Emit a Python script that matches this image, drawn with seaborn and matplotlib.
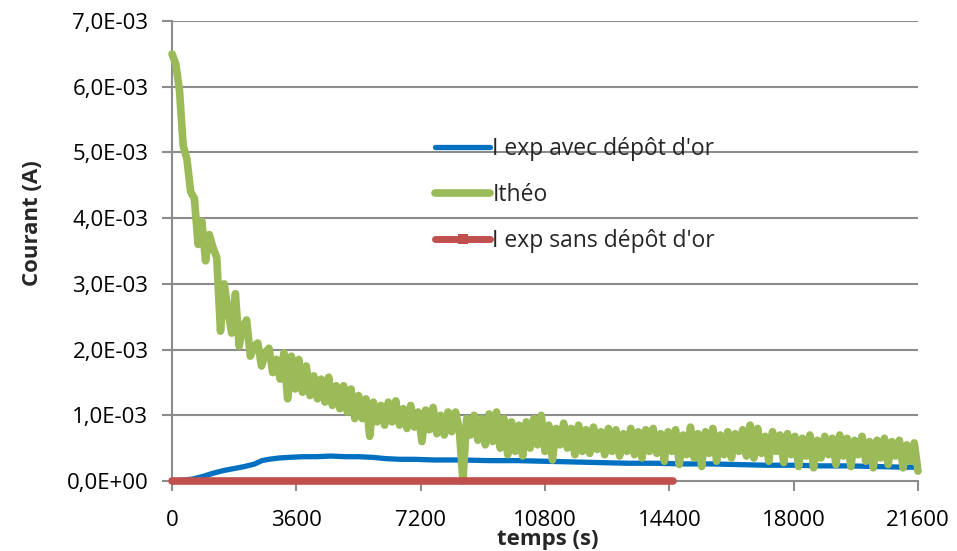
import numpy as np
import pandas as pd
import matplotlib
matplotlib.use("Agg")
import matplotlib.pyplot as plt
import seaborn as sns
from matplotlib.lines import Line2D
from matplotlib.ticker import FuncFormatter, MultipleLocator

# --- data (current in mA, converted to A below) ---
t_blue = [0, 300, 600, 900, 1200, 1500, 1800, 2100, 2400, 2600, 2800, 3100, 3400,
          3800, 4200, 4600, 5000, 5400, 5800, 6200, 6600, 7000, 7600, 8400, 9200,
          10000, 10800, 11600, 12400, 13200, 14000, 14800, 15600, 16400, 17200,
          18000, 18800, 19600, 20400, 21200, 21600]
i_blue_mA = [0.0, 0.01, 0.03, 0.07, 0.12, 0.16, 0.19, 0.22, 0.26, 0.31, 0.33, 0.35, 0.36,
             0.37, 0.37, 0.38, 0.37, 0.37, 0.36, 0.34, 0.33, 0.33, 0.32, 0.32, 0.31,
             0.31, 0.30, 0.29, 0.28, 0.27, 0.27, 0.26, 0.26, 0.25, 0.24,
             0.24, 0.23, 0.23, 0.22, 0.21, 0.21]

# Itheo sampled every 108 s
t_theo = np.arange(0, 21601, 108)
i_theo_mA = [
    6.50, 6.35, 5.95, 5.10, 4.90, 4.40, 4.30, 3.60, 3.95, 3.35,
    3.75, 3.55, 3.40, 2.28, 3.00, 2.60, 2.25, 2.85, 2.05, 2.35,
    2.45, 1.90, 2.05, 2.10, 1.75, 1.95, 2.02, 1.65, 1.85, 1.55,
    1.95, 1.25, 1.90, 1.40, 1.85, 1.35, 1.75, 1.30, 1.60, 1.25,
    1.55, 1.20, 1.58, 1.15, 1.45, 1.10, 1.45, 1.05, 1.40, 0.95,
    1.30, 0.95, 1.25, 0.68, 1.20, 0.90, 1.15, 0.85, 1.20, 0.90,
    1.22, 0.85, 1.10, 0.80, 1.15, 0.82, 1.05, 0.60, 1.08, 0.78,
    1.12, 0.72, 1.00, 0.70, 1.05, 0.75, 1.05, 0.80, 0.00, 0.95,
    0.70, 1.00, 0.62, 0.95, 0.55, 1.02, 0.60, 1.05, 0.50, 0.95,
    0.40, 0.90, 0.45, 0.85, 0.38, 0.90, 0.50, 0.95, 0.55, 1.00,
    0.45, 0.85, 0.32, 0.80, 0.55, 0.88, 0.50, 0.80, 0.40, 0.85,
    0.45, 0.78, 0.42, 0.82, 0.48, 0.75, 0.40, 0.80, 0.45, 0.78,
    0.38, 0.72, 0.45, 0.80, 0.40, 0.75, 0.35, 0.78, 0.45, 0.80,
    0.42, 0.72, 0.30, 0.75, 0.45, 0.78, 0.25, 0.70, 0.40, 0.82,
    0.35, 0.72, 0.22, 0.75, 0.42, 0.80, 0.30, 0.70, 0.40, 0.75,
    0.35, 0.72, 0.45, 0.78, 0.38, 0.85, 0.35, 0.80, 0.42, 0.68,
    0.30, 0.75, 0.45, 0.70, 0.28, 0.72, 0.40, 0.68, 0.22, 0.65,
    0.38, 0.70, 0.20, 0.62, 0.35, 0.68, 0.40, 0.65, 0.25, 0.70,
    0.38, 0.65, 0.22, 0.62, 0.40, 0.68, 0.30, 0.60, 0.20, 0.62,
    0.35, 0.65, 0.25, 0.60, 0.38, 0.62, 0.20, 0.55, 0.30, 0.58,
    0.15,
]

t_red = [0, 1800, 3600, 5400, 7200, 9000, 10800, 12600, 14500]
i_red_mA = [0, 0, 0, 0, 0, 0, 0, 0, 0]

labels = ["I exp avec dépôt d'or", "Ithéo", "I exp sans dépôt d'or"]
colors = ["#0070C0", "#9BBB59", "#C0504D"]
x_ticks = [0, 3600, 7200, 10800, 14400, 18000, 21600]

df_blue = pd.DataFrame({"t": t_blue, "I": np.array(i_blue_mA) * 1e-3})
df_theo = pd.DataFrame({"t": t_theo, "I": np.array(i_theo_mA) * 1e-3})
df_red = pd.DataFrame({"t": t_red, "I": np.array(i_red_mA) * 1e-3})

sns.set_style("white")
plt.rcParams['font.family'] = ['Open Sans', 'DejaVu Sans']

fig = plt.figure(figsize=(9.57, 5.51), dpi=100)
ax = fig.add_axes([172 / 957, 1 - 481 / 551, (918 - 172) / 957, (481 - 21) / 551])

grid_c = "#8C8C8C"
for v in np.arange(1, 8) * 1e-3:
    ax.axhline(v, color=grid_c, lw=1.5, zorder=1)

sns.lineplot(data=df_blue, x="t", y="I", ax=ax, color=colors[0], lw=3.8,
             label=labels[0], clip_on=False, zorder=3)
sns.lineplot(data=df_theo, x="t", y="I", ax=ax, color=colors[1], lw=5.5,
             label=labels[1], clip_on=False, zorder=4)
sns.lineplot(data=df_red, x="t", y="I", ax=ax, color=colors[2], lw=5.5,
             label=labels[2], clip_on=False, zorder=5)

for ln in ax.get_lines():
    ln.set_solid_capstyle("round")
    ln.set_solid_joinstyle("round")

ax.set_xlim(0, 21600)
ax.set_ylim(0, 0.007)
ax.set_xticks(x_ticks)
ax.yaxis.set_major_locator(MultipleLocator(0.001))
ax.yaxis.set_major_formatter(FuncFormatter(lambda v, p: f"{v:.1E}".replace(".", ",")))

for s in ["top", "right"]:
    ax.spines[s].set_visible(False)
for s in ["left", "bottom"]:
    ax.spines[s].set_color(grid_c)
    ax.spines[s].set_linewidth(1.5)
    ax.spines[s].set_zorder(2)

ax.tick_params(axis="both", which="major", length=7, width=1.5, color=grid_c,
               labelsize=16, labelcolor="black")
ax.tick_params(axis="y", left=True, pad=10)
ax.tick_params(axis="x", bottom=True, pad=14)

ax.set_xlabel("")
ax.set_ylabel("")
fig.text(548 / 957, 1 - 540 / 551, "temps (s)", ha="center", va="center",
         fontsize=16, fontweight="bold")
fig.text(32 / 957, 1 - 223 / 551, "Courant (A)", ha="center", va="center",
         rotation=90, fontsize=16, fontweight="bold")

# legend: red entry carries a small square marker as in Excel
handles = [
    Line2D([], [], color=colors[0], lw=3.8, solid_capstyle="round"),
    Line2D([], [], color=colors[1], lw=5.5, solid_capstyle="round"),
    Line2D([], [], color=colors[2], lw=5.0, solid_capstyle="round",
           marker="s", markersize=6.5, markeredgewidth=0),
]
ax.legend(handles, labels, loc="upper left", bbox_to_anchor=(435 / 957, 1 - 137 / 551),
          bbox_transform=fig.transFigure, frameon=False, fontsize=16.5,
          handlelength=2.4, handletextpad=0.1, labelspacing=0.97,
          borderaxespad=0, borderpad=0)

fig.savefig("out.png", dpi=100)
